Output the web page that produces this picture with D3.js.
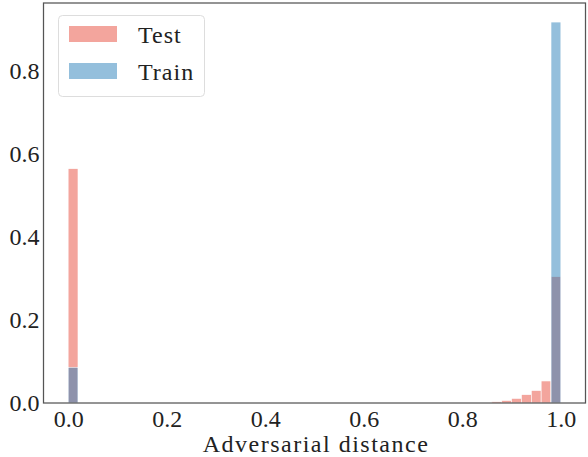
<!DOCTYPE html>
<html>
<head>
<meta charset="utf-8">
<script src="https://cdn.jsdelivr.net/npm/d3@7"></script>
<style>
  body { margin: 0; background: #fff; }
  text { font-family: "Liberation Serif", "DejaVu Serif", serif; fill: #222; }
</style>
</head>
<body>
<svg id="chart" width="588" height="457"></svg>
<script>
// histogram bins (left edge), fraction of samples per bin
var binWidth = 0.02;
var testBins = [0.00, 0.86, 0.88, 0.90, 0.92, 0.94, 0.96, 0.98];
var testValues = [0.564, 0.003, 0.006, 0.011, 0.020, 0.030, 0.053, 0.304];
var trainBins = [0.00, 0.98];
var trainValues = [0.086, 0.917];
var xTicks = [0.0, 0.2, 0.4, 0.6, 0.8, 1.0];
var yTicks = [0.0, 0.2, 0.4, 0.6, 0.8];
var seriesNames = ["Test", "Train"];
var seriesColors = ["#e74c3c", "#2980b9"];

var svg = d3.select("#chart");
var box = { left: 43.5, right: 585.5, top: 3, bottom: 403 };

var x = d3.scaleLinear().domain([-0.05, 1.05]).range([box.left, box.right]);
var yMax = d3.max(testValues.concat(trainValues)) * 1.05;
var y = d3.scaleLinear().domain([0, yMax]).range([box.bottom, box.top]);

function drawBars(bins, values, color) {
  svg.append("g").selectAll("rect").data(bins).enter().append("rect")
    .attr("x", function(d) { return x(d); })
    .attr("width", function(d) { return x(d + binWidth) - x(d); })
    .attr("y", function(d, i) { return y(values[i]); })
    .attr("height", function(d, i) { return y(0) - y(values[i]); })
    .attr("fill", color).attr("fill-opacity", 0.5)
    .attr("stroke", "#fff").attr("stroke-width", 0.6);
}

drawBars(testBins, testValues, seriesColors[0]);
drawBars(trainBins, trainValues, seriesColors[1]);

// x axis
var xAxis = svg.append("g").attr("transform", "translate(0," + box.bottom + ")")
  .call(d3.axisBottom(x).tickValues(xTicks).tickFormat(d3.format(".1f")).tickSize(0).tickPadding(7));
xAxis.select(".domain").remove();
xAxis.selectAll("text").attr("font-size", 24).attr("fill", "#222").attr("font-family", null);

// y axis
var yAxis = svg.append("g").attr("transform", "translate(" + box.left + ",0)")
  .call(d3.axisLeft(y).tickValues(yTicks).tickFormat(d3.format(".1f")).tickSize(0).tickPadding(4));
yAxis.select(".domain").remove();
yAxis.selectAll("text").attr("font-size", 24).attr("fill", "#222").attr("font-family", null);

// frame
svg.append("rect")
  .attr("x", box.left).attr("y", box.top)
  .attr("width", box.right - box.left).attr("height", box.bottom - box.top)
  .attr("fill", "none").attr("stroke", "#555").attr("stroke-width", 1.25);

svg.append("text")
  .attr("x", 316).attr("y", 451.5)
  .attr("text-anchor", "middle").attr("font-size", 24)
  .attr("letter-spacing", 1.5)
  .text("Adversarial distance");

// legend
var legend = svg.append("g");
legend.append("rect")
  .attr("x", 58.5).attr("y", 15.5).attr("width", 146).attr("height", 81)
  .attr("rx", 4).attr("fill", "#fff").attr("fill-opacity", 0.8)
  .attr("stroke", "#ddd").attr("stroke-width", 1);
seriesNames.forEach(function(name, i) {
  var rowY = 34 + i * 37;
  legend.append("rect")
    .attr("x", 69).attr("y", rowY - 8).attr("width", 48).attr("height", 16)
    .attr("fill", seriesColors[i]).attr("fill-opacity", 0.5);
  legend.append("text")
    .attr("x", 138).attr("y", rowY + 8.5)
    .attr("font-size", 24).attr("letter-spacing", 1)
    .text(name);
});
</script>
</body>
</html>
